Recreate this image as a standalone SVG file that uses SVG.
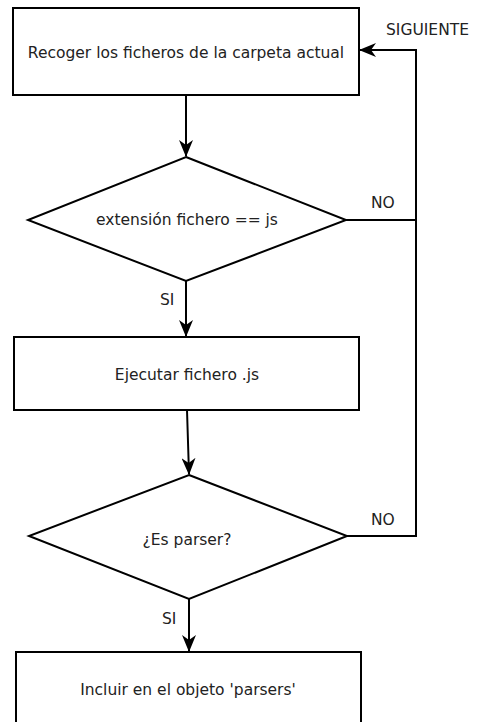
<svg xmlns="http://www.w3.org/2000/svg" width="477" height="722" viewBox="0 0 477 722">
<defs>
<marker id="ah" viewBox="0 0 17 14" refX="16" refY="7" markerWidth="17" markerHeight="14" markerUnits="userSpaceOnUse" orient="auto">
<path d="M0,0 L17,7 L0,14 L5,7 z" fill="#000"/>
</marker>
<style>
.n{fill:#fff;stroke:#000;stroke-width:2}
.t{font-family:"DejaVu Sans",Verdana,sans-serif;font-size:15.5px;fill:#222;text-anchor:middle}
.l{font-family:"DejaVu Sans",Verdana,sans-serif;font-size:15.5px;fill:#222}
.c{fill:none;stroke:#000;stroke-width:2}
</style>
</defs>
<rect width="477" height="722" fill="#fff"/>
<g id="n1"><rect class="n" x="13" y="8" width="346" height="87"/><text class="t" x="186" y="58">Recoger los ficheros de la carpeta actual</text></g>
<g id="n2"><polygon class="n" points="186,157 346,220 186,281 28,220"/><text class="t" x="187" y="225">extensión fichero == js</text></g>
<g id="n3"><rect class="n" x="14" y="337" width="345" height="73"/><text class="t" x="187" y="380">Ejecutar fichero .js</text></g>
<g id="n4"><polygon class="n" points="189,475 347,536 189,599 29,536"/><text class="t" x="187" y="545">¿Es parser?</text></g>
<g id="n5"><rect class="n" x="16" y="652" width="345" height="90"/><text class="t" x="188" y="695">Incluir en el objeto 'parsers'</text></g>
<g id="connectors">
<path class="c" d="M186,95 L186,156" marker-end="url(#ah)"/>
<path class="c" d="M186,281 L186,336" marker-end="url(#ah)"/>
<path class="c" d="M187,410 L189,474" marker-end="url(#ah)"/>
<path class="c" d="M189,599 L189,651" marker-end="url(#ah)"/>
<path class="c" d="M346,220 L416,220"/>
<path class="c" d="M347,536 L416,536 L416,50 L360,50" marker-end="url(#ah)"/>
<text class="l" x="371" y="208">NO</text>
<text class="l" x="371" y="525">NO</text>
<text class="l" x="160" y="305">SI</text>
<text class="l" x="162" y="624">SI</text>
<text class="l" x="386" y="35">SIGUIENTE</text>
</g>
</svg>
